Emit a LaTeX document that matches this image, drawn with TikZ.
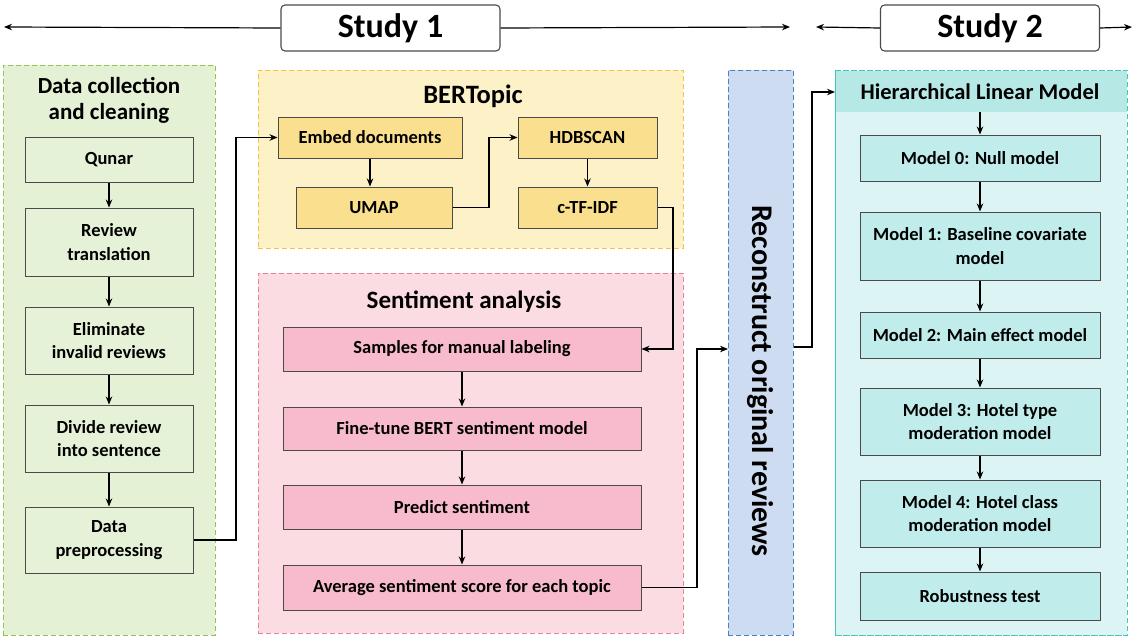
\documentclass[tikz,border=0pt]{standalone}
\usepackage{fontspec}
\setmainfont{Carlito}
\usetikzlibrary{arrows.meta,calc}
\definecolor{gfill}{HTML}{E4F1D4}
\definecolor{gline}{HTML}{8CC84F}
\definecolor{gbx}{HTML}{E6F2D8}
\definecolor{yfill}{HTML}{FDF1C8}
\definecolor{yline}{HTML}{F2C444}
\definecolor{ybx}{HTML}{FADF8E}
\definecolor{pfill}{HTML}{FBDCE2}
\definecolor{pline}{HTML}{E98393}
\definecolor{pbx}{HTML}{F8BBCD}
\definecolor{bfill}{HTML}{CEDCF1}
\definecolor{bline}{HTML}{4B7FC9}
\definecolor{tfill}{HTML}{DCF4F4}
\definecolor{thead}{HTML}{B6E9E6}
\definecolor{tline}{HTML}{45C3BC}
\definecolor{tbx}{HTML}{C0ECEB}
\definecolor{edge}{HTML}{4A4A4A}
\tikzset{
  panel/.style={draw, dashed, dash pattern=on 5pt off 3pt, line width=0.9pt, inner sep=0pt, anchor=north west},
  box/.style={draw=edge, line width=1pt, align=center, inner sep=1pt, font=\fontsize{18.5}{23.5}\selectfont\bfseries},
  gbox/.style={box, fill=gbx, minimum width=168pt},
  ybox/.style={box, fill=ybx},
  pbox/.style={box, fill=pbx, minimum width=358pt},
  tbox/.style={box, fill=tbx, minimum width=240pt},
  ttl/.style={align=center, font=\fontsize{23}{25.5}\selectfont\bfseries},
  studybox/.style={draw=edge, line width=1.1pt, rounded corners=4pt, fill=white, minimum width=219pt, minimum height=46pt, font=\fontsize{34}{36}\selectfont\bfseries},
  arr/.style={-{Stealth[length=8pt,width=6.5pt]}, line width=1.2pt, black},
}
\begin{document}
\begin{tikzpicture}[x=1pt,y=-1pt]
\useasboundingbox (0,0) rectangle (1135,642);
% top
\node[studybox] (s1) at (390.5,28) {Study 1};
\node[studybox] (s2) at (990,28) {Study 2};
\coordinate (l1) at (4,27);
\coordinate (r1) at (790,27);
\coordinate (l2) at (816,27);
\coordinate (r2) at (1132,27);
\draw[arr] (s1.west) -- (l1);
\draw[arr] (s1.east) -- (r1);
\draw[arr] (s2.west) -- (l2);
\draw[arr] (s2.east) -- (r2);
% panels
\node[panel, draw=gline, fill=gfill, minimum width=212pt, minimum height=570pt] (gp) at (3,65) {};
\node[panel, draw=yline, fill=yfill, minimum width=425pt, minimum height=178pt] (yp) at (258,70) {};
\node[panel, draw=pline, fill=pfill, minimum width=425pt, minimum height=360pt] (pp) at (258,273) {};
\node[panel, draw=bline, fill=bfill, minimum width=65pt, minimum height=565pt] (recon) at (728,70) {};
\node[panel, draw=tline, fill=tfill, minimum width=292pt, minimum height=565pt] (tp) at (835,70) {};
\fill[thead] ([xshift=0.6pt,yshift=-0.6pt]tp.north west) rectangle ([xshift=-0.6pt]tp.north east |- 0,112);
\draw[tline, dashed, dash pattern=on 5pt off 3pt, line width=0.9pt] (tp.north west) rectangle (tp.south east);
% titles
\node[ttl] at (109,100.5) {Data collection\\and cleaning};
\node[ttl, font=\fontsize{26.5}{30}\selectfont\bfseries] at (473,96) {BERTopic};
\node[ttl, font=\fontsize{25}{30}\selectfont\bfseries] at (464,302) {Sentiment analysis};
\node[ttl, font=\fontsize{22.5}{26}\selectfont\bfseries] (hlm) at (980,92) {Hierarchical Linear Model};
\node[rotate=-90, font=\fontsize{30}{34}\selectfont\bfseries] at (760.5,381) {Reconstruct original reviews};
% green boxes
\node[gbox, minimum height=45pt] (q) at (109,159.5) {Qunar};
\node[gbox, minimum height=68pt] (rt) at (109,242) {Review\\translation};
\node[gbox, minimum height=67pt] (el) at (109,340.5) {Eliminate\\invalid reviews};
\node[gbox, minimum height=67pt] (dv) at (109,438.5) {Divide review\\into sentence};
\node[gbox, minimum height=66pt] (dp) at (109,540) {Data\\preprocessing};
% yellow boxes
\node[ybox, minimum width=184pt, minimum height=41pt] (em) at (370,137.5) {Embed documents};
\node[ybox, minimum width=156pt, minimum height=41pt] (um) at (374,207.5) {UMAP};
\node[ybox, minimum width=139pt, minimum height=41pt] (hd) at (587.5,137.5) {HDBSCAN};
\node[ybox, minimum width=139pt, minimum height=41pt] (ct) at (587.5,207.5) {c-TF-IDF};
% pink boxes
\node[pbox, minimum height=44pt] (sm) at (462,349) {Samples for manual labeling};
\node[pbox, minimum height=43pt] (ft) at (462,428.5) {Fine-tune BERT sentiment model};
\node[pbox, minimum height=44pt] (pr) at (462,507) {Predict sentiment};
\node[pbox, minimum height=45pt] (av) at (462,587.5) {Average sentiment score for each topic};
% teal boxes
\node[tbox, minimum height=46pt] (m0) at (980,158) {Model 0: Null model};
\node[tbox, minimum height=68pt] (m1) at (980,246) {Model 1: Baseline covariate\\model};
\node[tbox, minimum height=46pt] (m2) at (980,335) {Model 2: Main effect model};
\node[tbox, minimum height=67pt] (m3) at (980,421.5) {Model 3: Hotel type\\moderation model};
\node[tbox, minimum height=67pt] (m4) at (980,513.5) {Model 4: Hotel class\\moderation model};
\node[tbox, minimum height=48pt] (rb) at (980,596) {Robustness test};
% connectors
\draw[arr] (q) -- (rt);
\draw[arr] (rt) -- (el);
\draw[arr] (el) -- (dv);
\draw[arr] (dv) -- (dp);
\coordinate (c1) at (236,540);
\draw[arr] (dp.east) -- (c1) |- (em.west);
\draw[arr] (em.south) -- (em.south |- um.north);
\coordinate (c2) at (489,207.5);
\draw[arr] (um.east) -- (c2) |- (hd.west);
\draw[arr] (hd) -- (ct);
\coordinate (c3) at (673,207.5);
\draw[arr] (ct.east) -- (c3) |- (sm.east);
\draw[arr] (sm) -- (ft);
\draw[arr] (ft) -- (pr);
\draw[arr] (pr) -- (av);
\coordinate (c4) at (697,587.5);
\draw[arr] (av.east) -- (c4) |- (recon.west |- sm);
\coordinate (c5) at (812,347);
\draw[arr] (recon.east |- c5) -- (c5) |- (tp.west |- hlm);
\coordinate (h0) at (980,112);
\draw[arr] (h0) -- (m0.north);
\draw[arr] (m0) -- (m1);
\draw[arr] (m1) -- (m2);
\draw[arr] (m2) -- (m3);
\draw[arr] (m3) -- (m4);
\draw[arr] (m4) -- (rb);
\end{tikzpicture}
\end{document}
